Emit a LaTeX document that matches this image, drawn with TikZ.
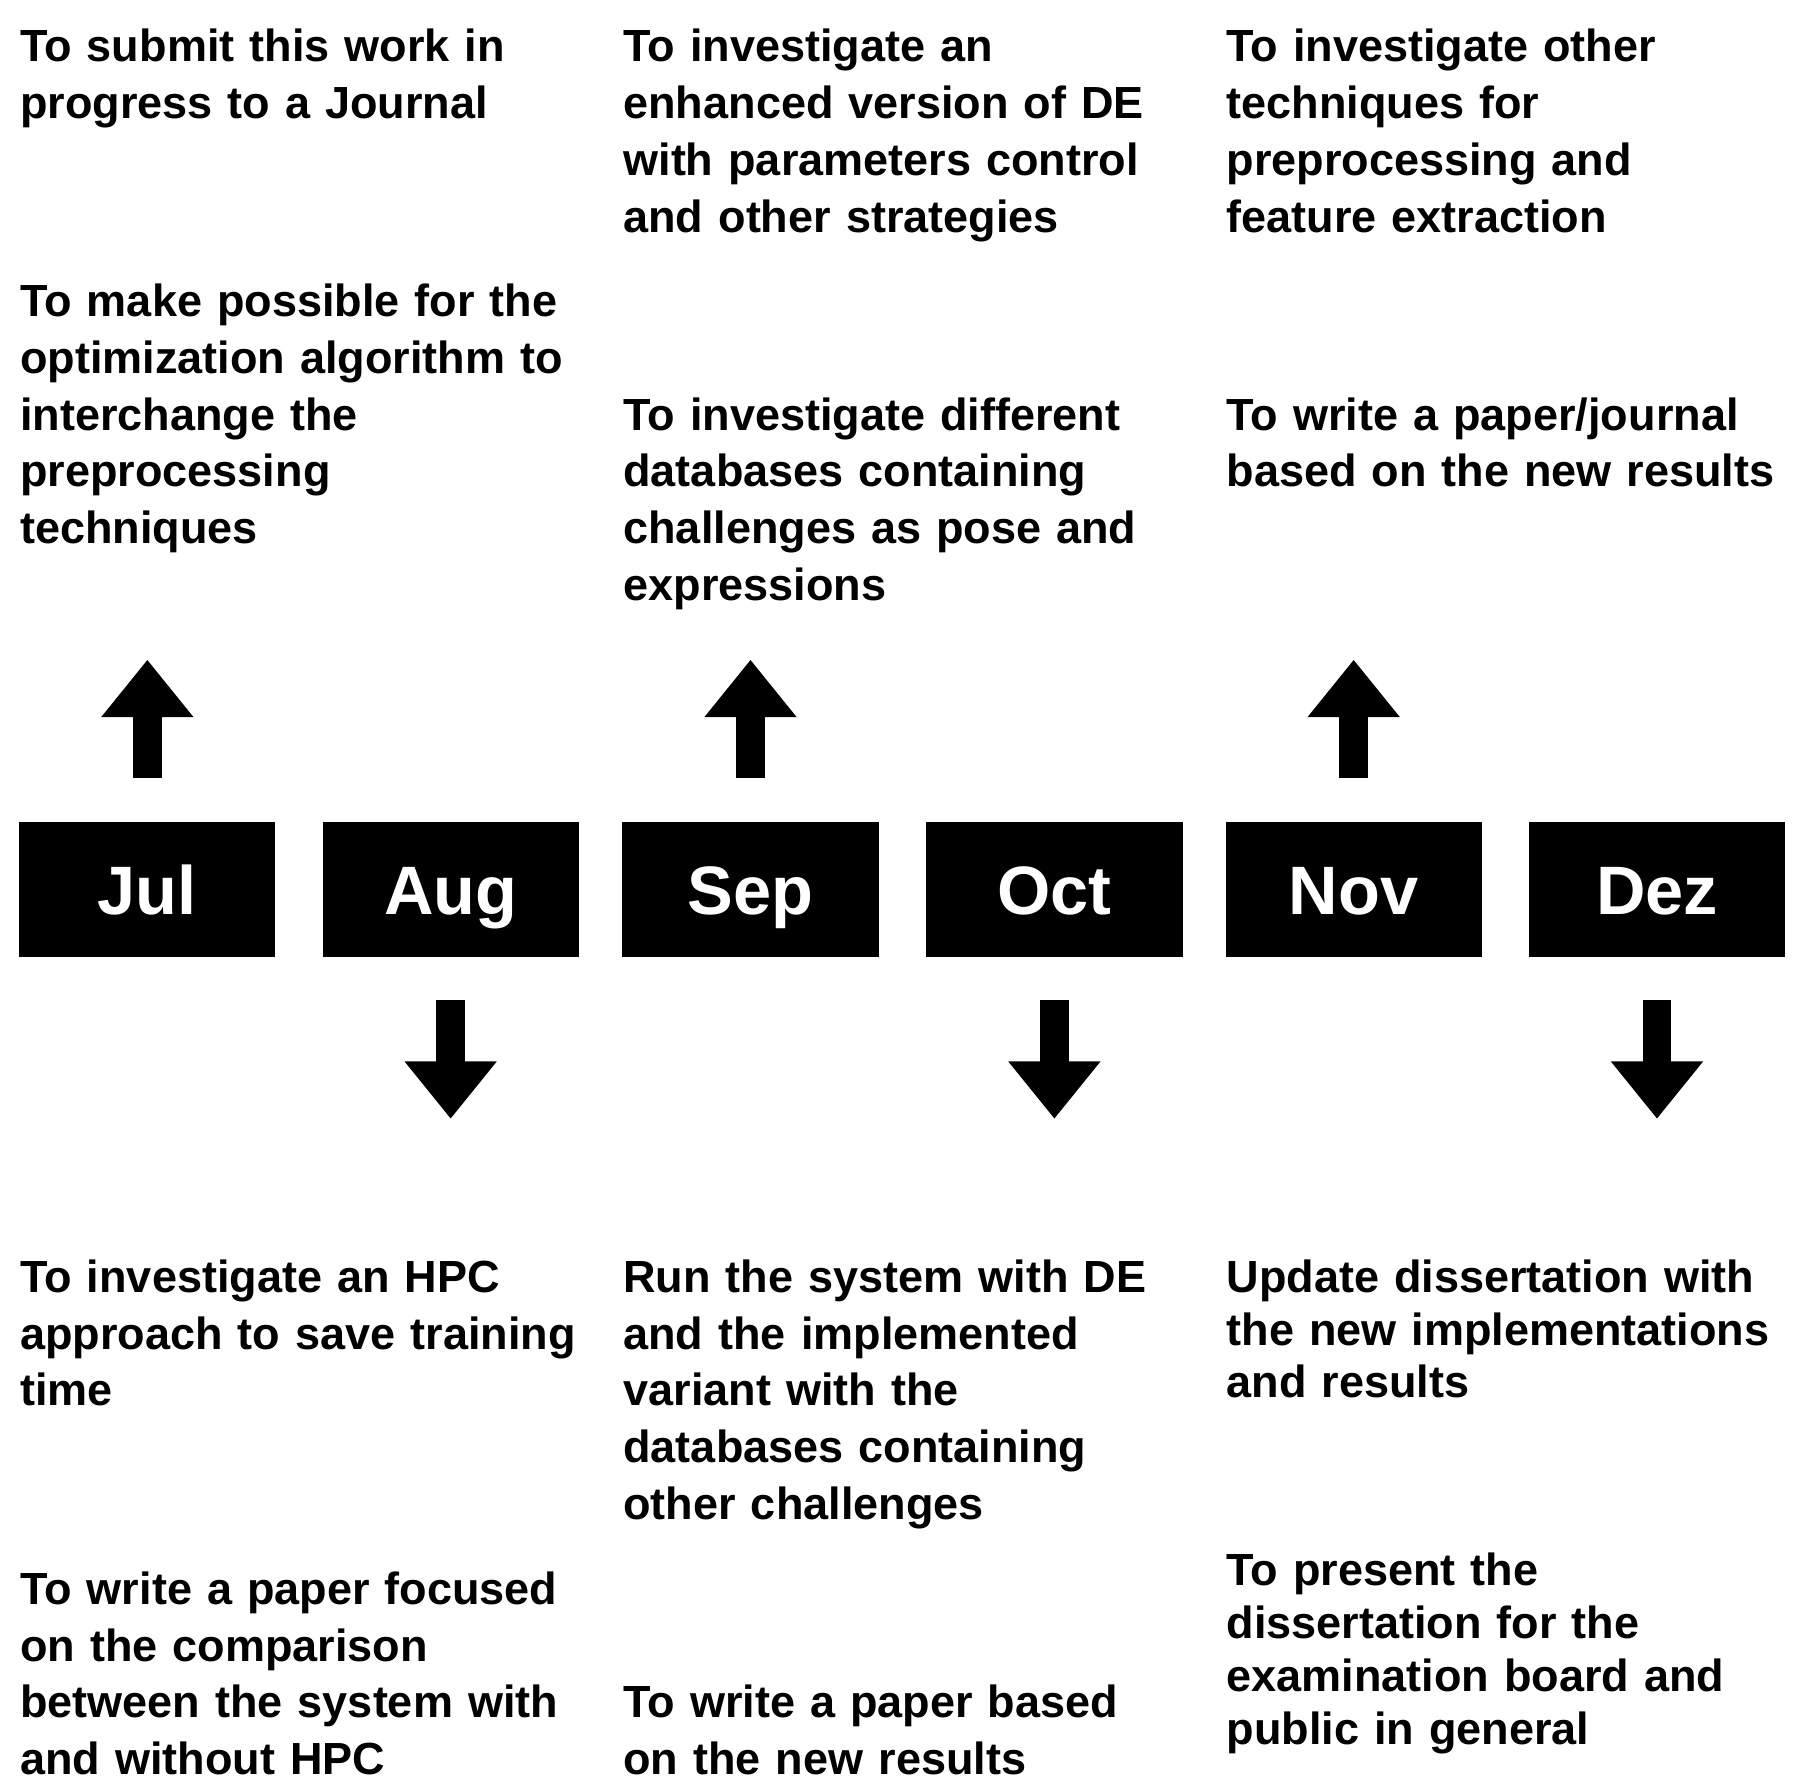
\documentclass[tikz,border=0pt]{standalone}
\usepackage{fontspec}
\setmainfont{Liberation Sans}
\usetikzlibrary{arrows.meta}

\begin{document}
\begin{tikzpicture}[
        monthnode/.style={rectangle, fill=black, text=white, inner sep=0pt,
            minimum width=2.235cm, minimum height=1.18cm,
            text height=0.43cm, text depth=0pt,
            font=\fontsize{17pt}{20pt}\selectfont\bfseries},
        textnode/.style={anchor=base west, inner sep=0pt, text width=5.3cm, align=left,
            font=\fontsize{11.17pt}{14.1pt}\selectfont\bfseries},
        tightnode/.style={textnode, font=\fontsize{11.17pt}{13.1pt}\selectfont\bfseries},
        uparrow/.style={line width=0.25cm, -{Triangle[width=0.77cm, length=0.5cm]}},
        downarrow/.style={uparrow},
        ]

        % Frame
        \useasboundingbox (0,0) rectangle (15.68,-15.626);

        % Months
        \node[monthnode] (jul) at (1.285,-7.76) {Jul};
        \node[monthnode] (aug) at (3.930,-7.76) {Aug};
        \node[monthnode] (sep) at (6.545,-7.76) {Sep};
        \node[monthnode] (oct) at (9.195,-7.76) {Oct};
        \node[monthnode] (nov) at (11.805,-7.76) {Nov};
        \node[monthnode] (dez) at (14.450,-7.76) {Dez};

        % Arrows up
        \draw[uparrow] ([yshift=0.38cm]jul.north) -- ([yshift=1.41cm]jul.north);
        \draw[uparrow] ([yshift=0.38cm]sep.north) -- ([yshift=1.41cm]sep.north);
        \draw[uparrow] ([yshift=0.38cm]nov.north) -- ([yshift=1.41cm]nov.north);

        % Arrows down
        \draw[downarrow] ([yshift=-0.36cm]aug.south) -- ([yshift=-1.40cm]aug.south);
        \draw[downarrow] ([yshift=-0.36cm]oct.south) -- ([yshift=-1.40cm]oct.south);
        \draw[downarrow] ([yshift=-0.36cm]dez.south) -- ([yshift=-1.40cm]dez.south);

        % Goals above
        \node[textnode] (julgoal1) at (0.17,-0.54) {To submit this work in\\progress to a Journal};
        \node[textnode] (julgoal2) at (0.17,-2.76) {To make possible for the\\optimization algorithm to\\interchange the\\preprocessing\\techniques};
        \node[textnode] (sepgoal1) at (5.43,-0.54) {To investigate an\\enhanced version of DE\\with parameters control\\and other strategies};
        \node[textnode] (sepgoal2) at (5.43,-3.75) {To investigate different\\databases containing\\challenges as pose and\\expressions};
        \node[textnode] (novgoal1) at (10.69,-0.54) {To investigate other\\techniques for\\preprocessing and\\feature extraction};
        \node[textnode] (novgoal2) at (10.69,-3.75) {To write a paper/journal\\based on the new results};

        % Goals below
        \node[textnode] (auggoal1) at (0.17,-11.27) {To investigate an HPC\\approach to save training\\time};
        \node[textnode] (auggoal2) at (0.17,-13.99) {To write a paper focused\\on the comparison\\between the system with\\and without HPC};
        \node[textnode] (octgoal1) at (5.43,-11.27) {Run the system with DE\\and the implemented\\variant with the\\databases containing\\other challenges};
        \node[textnode] (octgoal2) at (5.43,-14.98) {To write a paper based\\on the new results};
        \node[tightnode] (dezgoal1) at (10.69,-11.27) {Update dissertation with\\the new implementations\\and results};
        \node[tightnode] (dezgoal2) at (10.69,-13.83) {To present the\\dissertation for the\\examination board and\\public in general};

    \end{tikzpicture}
\end{document}
